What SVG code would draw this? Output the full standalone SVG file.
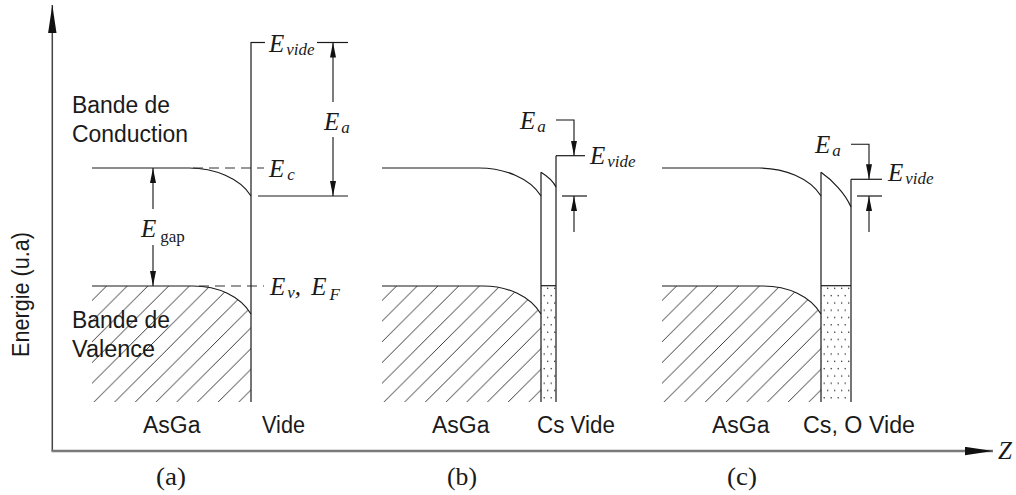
<svg xmlns="http://www.w3.org/2000/svg" width="1016" height="495" viewBox="0 0 1016 495">
<style>
.ln{fill:none;stroke:#1a1a1a;stroke-width:1.2}
.dash{fill:none;stroke:#333;stroke-width:1.2;stroke-dasharray:10 6}
.hatch{fill:url(#hatch);stroke:none}
.dots{fill:url(#dots);stroke:none}
.arr{fill:none;stroke:#111;stroke-width:1.1;marker-end:url(#ah)}
.t{font-family:"Liberation Sans",Arial,sans-serif;font-size:23px;fill:#1a1a1a}
.e{font-family:"Liberation Serif","Times New Roman",serif;font-style:italic;font-size:25px;fill:#1a1a1a}
.s{font-size:17px}
.r{font-family:"Liberation Serif","Times New Roman",serif;font-size:26px;fill:#1a1a1a}
.g{font-family:"Liberation Serif","Times New Roman",serif;font-style:normal;font-size:17px}
</style>
<defs>
<pattern id="hatch" patternUnits="userSpaceOnUse" x="-0.8" y="0" width="20.7" height="20.7">
<path d="M-1,1 L1,-1 M0,20.7 L20.7,0 M19.7,21.7 L21.7,19.7" stroke="#222" stroke-width="0.9"/>
</pattern>
<pattern id="dots" patternUnits="userSpaceOnUse" x="0" y="0" width="7" height="14.6">
<circle cx="2.2" cy="3.6" r="0.75" fill="#222"/>
<circle cx="5.7" cy="10.9" r="0.75" fill="#222"/>
</pattern>
<marker id="ah" markerUnits="userSpaceOnUse" markerWidth="16" markerHeight="8" refX="15" refY="3" orient="auto">
<path d="M0,0 L15,3 L0,6 Z" fill="#111"/>
</marker>
<marker id="axh" markerUnits="userSpaceOnUse" markerWidth="30" markerHeight="10" refX="28" refY="4.2" orient="auto">
<path d="M0,0 L28,4.2 L0,8.4 Z" fill="#111"/>
</marker>
</defs>

<g id="axes">
<line x1="52.3" y1="451" x2="52.3" y2="5" stroke="#444" stroke-width="1.5" marker-end="url(#axh)"/>
<line x1="51.5" y1="451" x2="993" y2="451" stroke="#7a7a7a" stroke-width="2.6" marker-end="url(#axh)"/>
<text class="t" transform="translate(29,294.5) rotate(-90)" text-anchor="middle" font-size="22" textLength="125" lengthAdjust="spacingAndGlyphs">Energie (u.a)</text>
<text class="e" x="998" y="459" font-size="23">Z</text>
</g>

<g id="panel-a">
<path class="hatch" d="M92,286 H193 C218,286 240,296 251,314 V402 H92 Z"/>
<path class="ln" d="M92,168 H189 C214,168 240,178 251,196"/>
<path class="ln" d="M92,286 H193 C218,286 240,296 251,314"/>
<line class="dash" x1="193" y1="168" x2="264" y2="168"/>
<line class="dash" x1="199" y1="286" x2="264" y2="286"/>
<line class="ln" x1="251" y1="42" x2="251" y2="402"/>
<line class="ln" x1="251" y1="42.5" x2="265" y2="42.5"/>
<line class="ln" x1="317" y1="42.5" x2="348" y2="42.5"/>
<line class="ln" x1="258" y1="196" x2="348" y2="196"/>
<path class="arr" d="M333,102 V42.5"/>
<path class="arr" d="M333,137 V196"/>
<path class="arr" d="M153,209 V168"/>
<path class="arr" d="M153,245 V286"/>
<text class="e" x="269" y="51.5">E<tspan class="s" dx="2" dy="3">vide</tspan></text>
<text class="e" x="324" y="130">E<tspan class="s" dx="2" dy="3">a</tspan></text>
<text class="e" x="269" y="176.5">E<tspan class="s" dx="3" dy="3">c</tspan></text>
<text class="e" x="270" y="295">E<tspan class="s" dx="2" dy="3">v</tspan><tspan dy="-3">, </tspan><tspan dx="4">E</tspan><tspan class="s" dx="3" dy="5">F</tspan></text>
<text class="e" x="141" y="237">E<tspan class="g" dx="4" dy="5">gap</tspan></text>
<text class="t" x="72" y="113" textLength="98" lengthAdjust="spacingAndGlyphs">Bande de</text>
<text class="t" x="72" y="142" textLength="116" lengthAdjust="spacingAndGlyphs">Conduction</text>
<text class="t" x="72" y="328" textLength="98" lengthAdjust="spacingAndGlyphs">Bande de</text>
<text class="t" x="72" y="357" textLength="83" lengthAdjust="spacingAndGlyphs">Valence</text>
<text class="t" x="143" y="433" textLength="57.5" lengthAdjust="spacingAndGlyphs">AsGa</text>
<text class="t" x="262" y="433" textLength="43" lengthAdjust="spacingAndGlyphs">Vide</text>
<text class="r" x="156" y="485" textLength="30" lengthAdjust="spacingAndGlyphs">(a)</text>
</g>

<g id="panel-b" transform="translate(290,0)">
<path class="hatch" d="M92,286 H193 C218,286 240,296 251,314 V402 H92 Z"/>
<rect class="dots" x="251" y="286" width="15" height="116"/>
<path class="ln" d="M92,168 H189 C214,168 240,178 251,196"/>
<path class="ln" d="M92,286 H193 C218,286 240,296 251,314"/>
<line class="ln" x1="251" y1="172.3" x2="251" y2="402"/>
<path class="ln" d="M251,172.3 C257,176 263,181 266,187"/>
<line class="ln" x1="266" y1="155.7" x2="266" y2="402"/>
<line class="ln" x1="251" y1="285.7" x2="266" y2="285.7"/>
<line class="ln" x1="266" y1="155.7" x2="295" y2="155.7"/>
<line class="ln" x1="272" y1="196" x2="297" y2="196"/>
<path class="arr" d="M266,120 H284 V155.7"/>
<path class="arr" d="M284,232 V196"/>
<text class="e" x="230" y="129">E<tspan class="s" dx="2" dy="3">a</tspan></text>
<text class="e" x="300" y="164">E<tspan class="s" dx="2" dy="3">vide</tspan></text>
<text class="t" x="142" y="433" textLength="57.5" lengthAdjust="spacingAndGlyphs">AsGa</text>
<text class="t" x="247" y="433" textLength="78" lengthAdjust="spacingAndGlyphs">Cs Vide</text>
<text class="r" x="157" y="485" textLength="30" lengthAdjust="spacingAndGlyphs">(b)</text>
</g>

<g id="panel-c" transform="translate(570,0)">
<path class="hatch" d="M92,286 H193 C218,286 240,296 251,314 V402 H92 Z"/>
<rect class="dots" x="251" y="286" width="30" height="116"/>
<path class="ln" d="M92,168 H189 C214,168 240,178 251,196"/>
<path class="ln" d="M92,286 H193 C218,286 240,296 251,314"/>
<line class="ln" x1="251" y1="172.3" x2="251" y2="402"/>
<path class="ln" d="M251,172.3 C262,180 275,193 281,207"/>
<line class="ln" x1="281" y1="179.3" x2="281" y2="402"/>
<line class="ln" x1="251" y1="285.7" x2="281" y2="285.7"/>
<line class="ln" x1="281" y1="179.3" x2="312" y2="179.3"/>
<line class="ln" x1="287" y1="196" x2="312" y2="196"/>
<path class="arr" d="M281,144.3 H299 V179.3"/>
<path class="arr" d="M299,232 V196"/>
<text class="e" x="245" y="153">E<tspan class="s" dx="2" dy="3">a</tspan></text>
<text class="e" x="318" y="181">E<tspan class="s" dx="2" dy="3">vide</tspan></text>
<text class="t" x="142" y="433" textLength="57.5" lengthAdjust="spacingAndGlyphs">AsGa</text>
<text class="t" x="233" y="433" textLength="112" lengthAdjust="spacingAndGlyphs">Cs, O Vide</text>
<text class="r" x="157" y="485" textLength="30" lengthAdjust="spacingAndGlyphs">(c)</text>
</g>
</svg>
